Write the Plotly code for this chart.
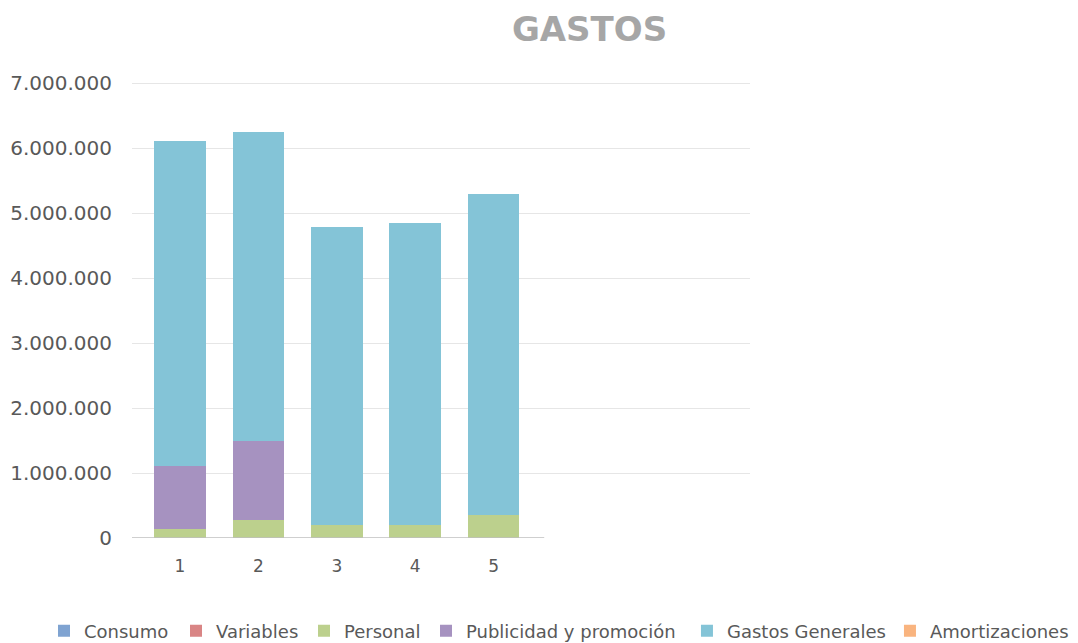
import plotly.graph_objects as go

periods = [1, 2, 3, 4, 5]
series_names = ["Consumo", "Variables", "Personal", "Publicidad y promoción", "Gastos Generales", "Amortizaciones"]
consumo = [0, 0, 0, 0, 0]
variables = [0, 0, 0, 0, 0]
personal = [140000, 280000, 195000, 195000, 360000]
publicidad = [970000, 1210000, 0, 0, 0]
gastos_generales = [5000000, 4760000, 4595000, 4655000, 4940000]
amortizaciones = [0, 0, 0, 0, 0]
y_ticks = [0, 1000000, 2000000, 3000000, 4000000, 5000000, 6000000, 7000000]

colors = ["#7fa3d1", "#d98585", "#bcd08d", "#a692c0", "#84c4d7", "#f9b47f"]
values = [consumo, variables, personal, publicidad, gastos_generales, amortizaciones]
# legend entry widths (px) and which legend box each entry goes in
entry_widths = [87, 83, 77, 216, 158, 140]
legend_ids = ["legend", "legend", "legend", "legend", "legend2", "legend2"]

fig = go.Figure()
for name, vals, col, lw, lg in zip(series_names, values, colors, entry_widths, legend_ids):
    fig.add_trace(go.Bar(
        x=periods, y=vals, name=name,
        marker=dict(color=col, line=dict(width=0)),
        width=0.66, legend=lg, legendwidth=lw,
    ))

legend_font = dict(family="DejaVu Sans", size=18, color="#595959")

fig.update_layout(
    barmode="stack",
    width=1070, height=635,
    margin=dict(l=124, r=328, t=72, b=105, autoexpand=False),
    paper_bgcolor="white", plot_bgcolor="white",
    separators=",.",
    title=dict(text="<b>GASTOS</b>", x=0.5435, xref="container", xanchor="center",
               y=1 - 21 / 635, yref="container", yanchor="middle",
               font=dict(family="DejaVu Sans", size=34, color="#a6a6a6")),
    legend=dict(orientation="h", x=-0.1424, xanchor="left", y=-0.2030, yanchor="middle",
                font=legend_font, traceorder="normal", itemwidth=30),
    legend2=dict(orientation="h", x=0.898, xanchor="left", y=-0.2030, yanchor="middle",
                 font=legend_font, traceorder="normal", itemwidth=30),
    xaxis=dict(range=[0.388, 8.27], tickvals=periods, ticktext=[str(p) for p in periods],
               showgrid=False, zeroline=False, showline=False, automargin=False,
               tickfont=dict(family="DejaVu Sans", size=17, color="#595959"),
               ticklabelstandoff=16),
    yaxis=dict(range=[0, 7050000], tickvals=y_ticks, tickformat=",d",
               showgrid=True, gridcolor="#e6e6e6", gridwidth=1,
               zeroline=False, showline=False, automargin=False,
               tickfont=dict(family="DejaVu Sans", size=20, color="#595959"),
               ticklabelstandoff=19),
    showlegend=True,
)

# horizontal axis line (shorter than gridlines as in reference)
fig.add_shape(type="line", xref="paper", yref="y", x0=0, x1=0.667, y0=y_ticks[0], y1=y_ticks[0],
              line=dict(color="#bfbfbf", width=1.5))

fig.write_html("out.html")
